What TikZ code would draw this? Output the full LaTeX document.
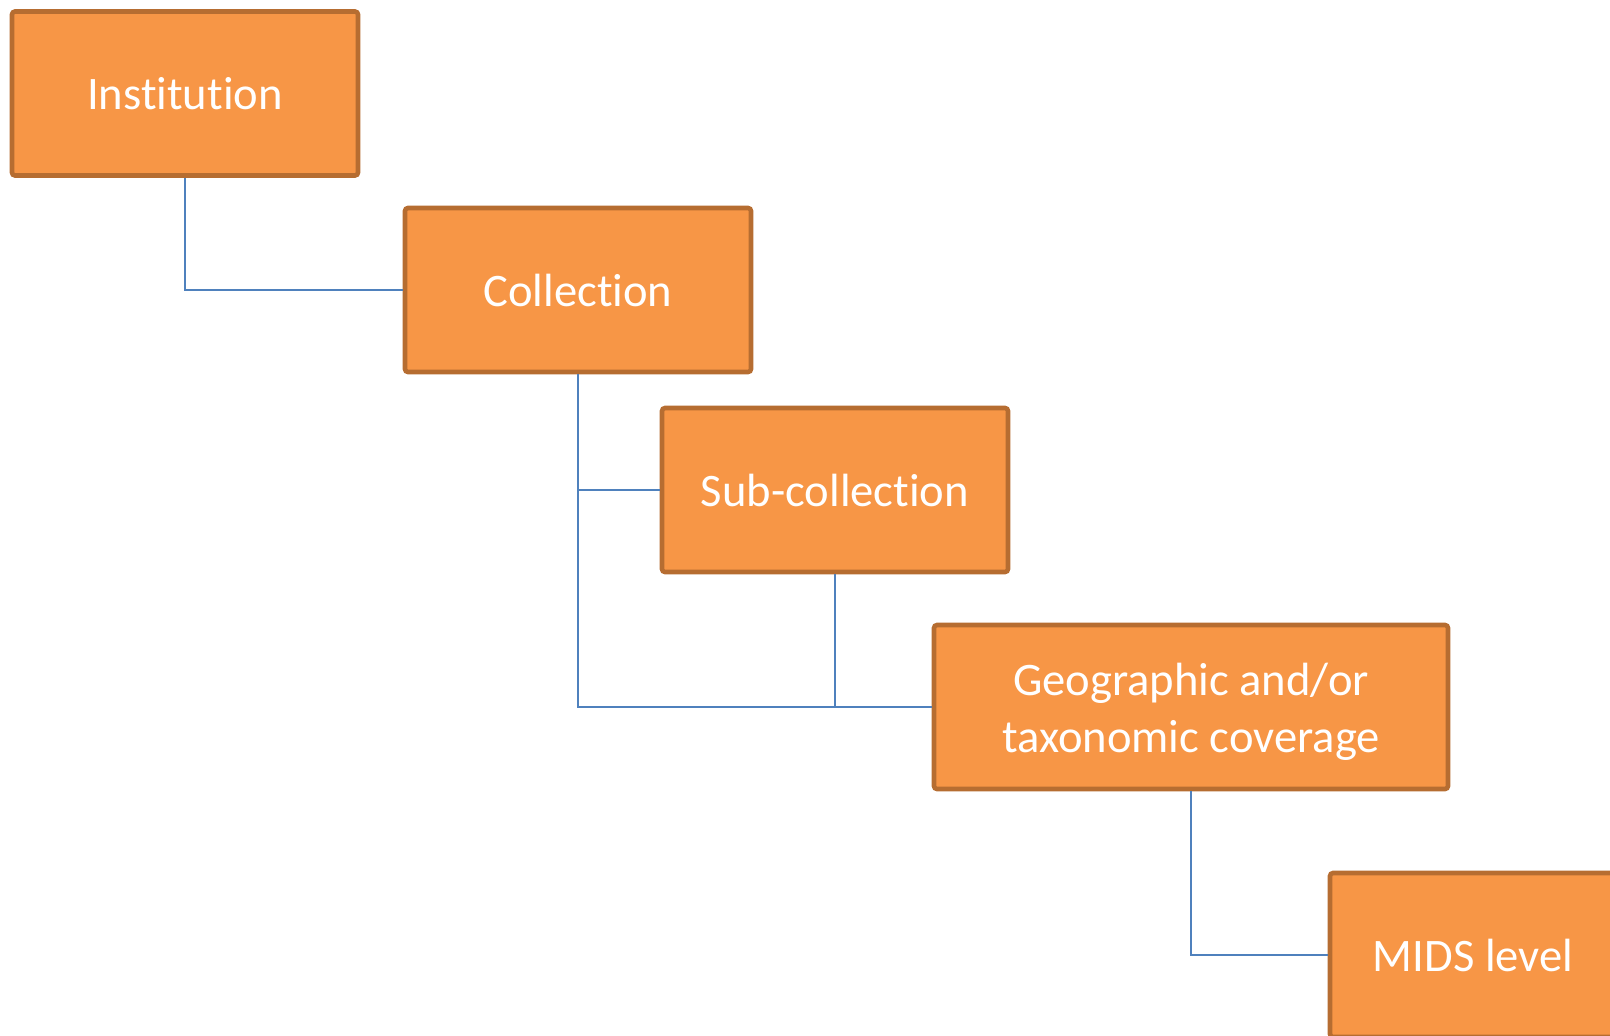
\documentclass[tikz,border=0pt]{standalone}
\usepackage{fontspec}
\setmainfont{Carlito}[RawFeature=-liga]
\definecolor{boxfill}{HTML}{F79646}
\definecolor{boxline}{HTML}{B66D31}
\definecolor{linkblue}{HTML}{4F81BD}
\tikzset{
    level/.style={draw=boxline, fill=boxfill, line width=2.3pt, rounded corners=1.5pt,
        minimum width=173pt, minimum height=82pt, text=white, align=center,
        font=\fontsize{23.3}{28.8}\selectfont},
    link/.style={draw=linkblue, line width=0.75pt}
}
\begin{document}
\begin{tikzpicture}[x=0.5pt,y=-0.5pt]
    \useasboundingbox (0,0) rectangle (1610,1035);
    \clip (0,0) rectangle (1610,1035);

    % the levels, from top left to bottom right
    \node[level] (inst) at (185,93.5) {Institution};
    \node[level] (coll) at (578,290) {Collection};
    \node[level] (sub) at (835,490) {Sub-collection};
    \node[level, minimum width=257pt] (geo) at (1191,707) {\\[-8pt]Geographic and/or\\taxonomic coverage};
    \node[level, minimum width=143pt] (mids) at (1473,955) {MIDS level};

    % elbow connectors
    \draw[link] (inst.south) |- (coll.west);
    \draw[link] (coll.south) |- (sub.west);
    \draw[link] (coll.south) |- (geo.west);
    \draw[link] (sub.south) |- (geo.west);
    \draw[link] (geo.south) |- (mids.west);
\end{tikzpicture}
\end{document}
